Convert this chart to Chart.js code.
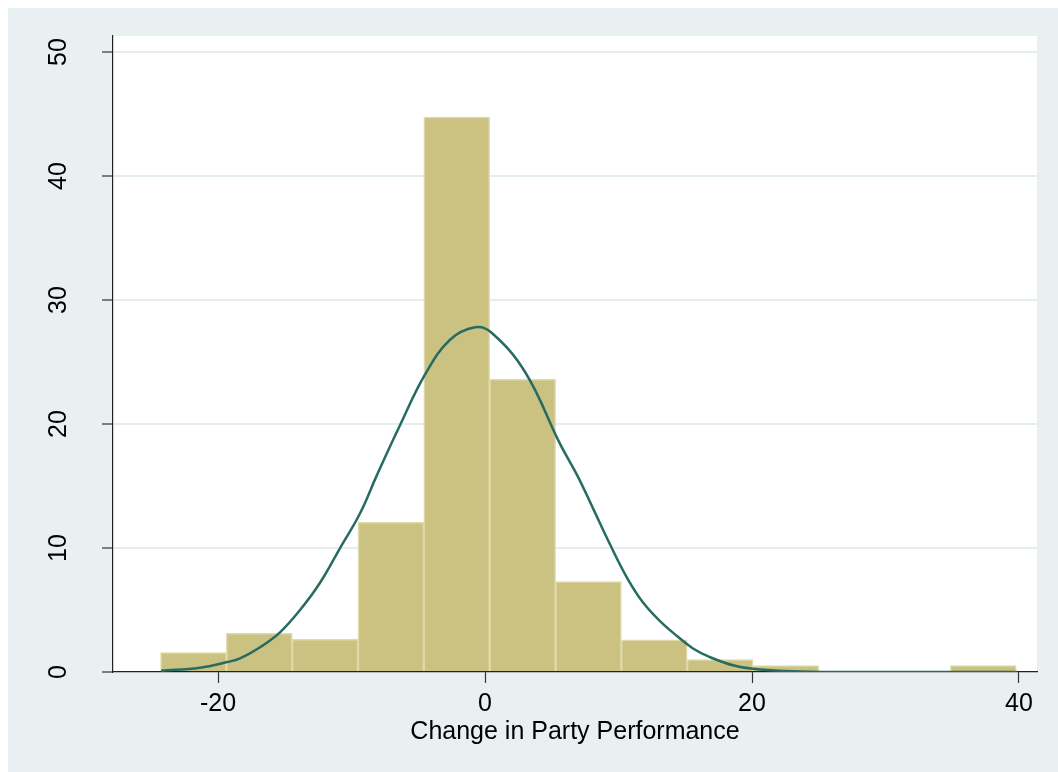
<!DOCTYPE html>
<html lang="en">
<head>
    <meta charset="UTF-8">
    <title>Change in Party Performance</title>
    <style>
        html, body { margin: 0; padding: 0; background: #fff; }
        canvas { display: block; }
    </style>
</head>
<body>
    <canvas id="histChart" width="1058" height="772"></canvas>

    <script src="https://cdn.jsdelivr.net/npm/chart.js"></script>
    <script>
        // histogram bins (centres) and percent per bin
        const binCentres = [-21.84, -16.91, -11.98, -7.05, -2.12, 2.82, 7.75, 12.68, 17.61, 22.54, 27.47, 32.40, 37.33];
        const binPercent = [1.56, 3.12, 2.64, 12.07, 44.76, 23.6, 7.3, 2.6, 1.0, 0.52, 0, 0, 0.52];

        // normal density overlay
        const curveX = [-24.27, -21.35, -19.33, -18.35, -16.85, -15.36, -13.86, -12.36, -10.86, -9.36, -8.09, -6.37, -4.49, -2.62, -0.75, 0.45, 3.0, 5.62, 6.89, 8.09, 9.36, 10.64, 11.84, 13.11, 14.38, 15.58, 16.85, 18.73, 20.6, 23.6, 27.3, 39.85];
        const curveY = [0.1, 0.35, 0.8, 1.1, 2.0, 3.2, 5.0, 7.2, 10.0, 12.8, 15.9, 19.9, 24.0, 26.8, 27.8, 27.4, 24.2, 18.4, 15.9, 13.2, 10.3, 7.6, 5.6, 4.1, 2.9, 1.9, 1.2, 0.5, 0.2, 0.05, 0, 0];

        const xTicks = [-20, 0, 20, 40];
        const yTicks = [0, 10, 20, 30, 40, 50];

        const labelFont = { family: "'Liberation Sans', Arial, sans-serif", size: 25 };

        // stata-ish background: light outer region, white plot area
        const backdrop = {
            id: 'backdrop',
            beforeDraw(chart) {
                const { ctx, chartArea: a, width, height } = chart;
                ctx.save();
                ctx.fillStyle = '#ffffff';
                ctx.fillRect(0, 0, width, height);
                ctx.fillStyle = '#E8F0F2';
                ctx.fillRect(8, 8, width - 8, height - 8);
                ctx.fillStyle = '#ffffff';
                ctx.fillRect(a.left, a.top, a.right - a.left, a.bottom - a.top);
                ctx.restore();
            }
        };

        const ctx = document.getElementById('histChart').getContext('2d');
        const chart = new Chart(ctx, {
            type: 'bar',
            data: {
                datasets: [{
                    type: 'line',
                    data: curveX.map((x, i) => ({ x: x, y: curveY[i] })),
                    borderColor: '#276B62',
                    borderWidth: 2.5,
                    pointRadius: 0,
                    tension: 0.4,
                    fill: false,
                    order: 0
                }, {
                    type: 'bar',
                    data: binCentres.map((x, i) => ({ x: x, y: binPercent[i] })),
                    backgroundColor: '#CBC281',
                    borderColor: '#DEDAA6',
                    borderWidth: 1.5,
                    barPercentage: 1,
                    categoryPercentage: 1,
                    order: 1
                }]
            },
            options: {
                responsive: false,
                animation: false,
                layout: { padding: { top: 36, right: 21, left: 0, bottom: 0 } },
                plugins: {
                    legend: { display: false },
                    tooltip: { enabled: false }
                },
                scales: {
                    x: {
                        type: 'linear',
                        offset: false,
                        min: -27.87,
                        max: 41.35,
                        afterBuildTicks: s => { s.ticks = xTicks.map(v => ({ value: v })); },
                        afterFit: s => { s.height = 100; },
                        grid: { offset: false, drawOnChartArea: false, tickLength: 11, tickColor: '#333', tickWidth: 1.2 },
                        border: { color: '#222', width: 1.2 },
                        ticks: { autoSkip: false, padding: 6, maxRotation: 0, color: '#000', font: labelFont },
                        title: {
                            display: true,
                            text: 'Change in Party Performance',
                            color: '#000',
                            font: labelFont,
                            padding: { top: 0, bottom: 25 }
                        }
                    },
                    y: {
                        min: 0,
                        max: 51.3,
                        afterBuildTicks: s => { s.ticks = yTicks.map(v => ({ value: v })); },
                        afterFit: s => {
                            s.width = 113;
                            // tick padding is only there to push labels left, not to shrink the plot
                            s.paddingTop = 15;
                            s.paddingBottom = 15;
                        },
                        grid: {
                            color: c => (c.tick && c.tick.value === 0) ? 'rgba(0,0,0,0)' : '#E4EDEF',
                            lineWidth: 2,
                            tickLength: 11,
                            tickColor: '#333',
                            tickWidth: 1.2
                        },
                        border: { color: '#222', width: 1.2 },
                        ticks: {
                            minRotation: 90,
                            maxRotation: 90,
                            crossAlign: 'center',
                            padding: 29,
                            color: '#000',
                            font: labelFont
                        }
                    }
                }
            },
            plugins: [backdrop]
        });
    </script>
</body>
</html>
